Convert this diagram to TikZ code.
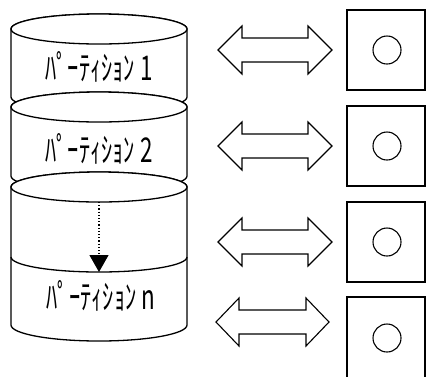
\documentclass[tikz,border=0pt]{standalone}
\usepackage{fontspec}
\newfontfamily\jp{Noto Sans CJK JP}
\usetikzlibrary{arrows.meta}
\newcommand{\tallText}[1]{\scalebox{1.02}[1.55]{#1}}
\begin{document}
\begin{tikzpicture}[x=1pt,y=-1pt,
  cyl/.style={draw=black, line width=1.3pt, fill=white},
  dbl/.style={draw=black, line width=1.1pt, fill=white, line join=miter},
  devbox/.style={draw=black, line width=1.1pt, fill=white},
  hole/.style={draw=black, line width=1.1pt, circle, minimum size=28pt, inner sep=0pt},
  lbl/.style={font=\jp\fontsize{22}{22}\selectfont, inner sep=0pt}]
\useasboundingbox (0,0) rectangle (427,376);
\clip (0,0) rectangle (427,376);
% cylinder 1
\filldraw[cyl] (11,29) -- (11,97) arc[start angle=180, end angle=0, x radius=88, y radius=15]
  -- (187,29) arc[start angle=0, end angle=-180, x radius=88, y radius=15] -- cycle;
\draw[cyl] (99,29) ellipse [x radius=88, y radius=15];
% cylinder 2
\filldraw[cyl] (11,107) -- (11,176) arc[start angle=180, end angle=0, x radius=88, y radius=15]
  -- (187,107) arc[start angle=0, end angle=-180, x radius=88, y radius=15] -- cycle;
\draw[cyl] (99,107) ellipse [x radius=88, y radius=15];
% cylinder 3 (partition n)
\filldraw[cyl] (11,187) -- (11,325) arc[start angle=180, end angle=0, x radius=88, y radius=16]
  -- (187,187) arc[start angle=0, end angle=-180, x radius=88, y radius=15] -- cycle;
\draw[cyl] (99,187) ellipse [x radius=88, y radius=15];
\draw[line width=1.3pt] (11,257) arc[start angle=180, end angle=0, x radius=88, y radius=15];
% labels
\node[lbl] (t1) at (99,67) {\tallText{ﾊﾟｰﾃｨｼｮﾝ 1}};
\node[lbl] (t2) at (99,149) {\tallText{ﾊﾟｰﾃｨｼｮﾝ 2}};
\node[lbl] (tn) at (101,296) {\tallText{ﾊﾟｰﾃｨｼｮﾝ n}};
\coordinate (ds) at (99,202);
\coordinate (de) at (99,272);
\draw[dotted, line width=1.2pt, -{Triangle[length=17pt,width=19pt]}] (ds) -- (de);
% double arrows
\foreach \yc in {50,146,242} {
  \filldraw[dbl] (218,\yc) -- (242,\yc-24) -- (242,\yc-12) -- (308,\yc-12) -- (308,\yc-24)
    -- (332,\yc) -- (308,\yc+24) -- (308,\yc+12) -- (242,\yc+12) -- (242,\yc+24) -- cycle;
}
\filldraw[dbl] (216,322) -- (239,298) -- (239,310) -- (306,310) -- (306,298)
    -- (329,322) -- (306,346) -- (306,334) -- (239,334) -- (239,346) -- cycle;
% devices
\draw[devbox] (347,10) rectangle (425,90);
\draw[devbox] (347,106) rectangle (425,186);
\draw[devbox] (347,202) rectangle (425,282);
\draw[devbox] (347,297) rectangle (425,380);
\node[hole] (c1) at (387,50) {};
\node[hole] (c2) at (387,146) {};
\node[hole] (c3) at (387,242) {};
\node[hole] (c4) at (387,338) {};
\end{tikzpicture}
\end{document}
